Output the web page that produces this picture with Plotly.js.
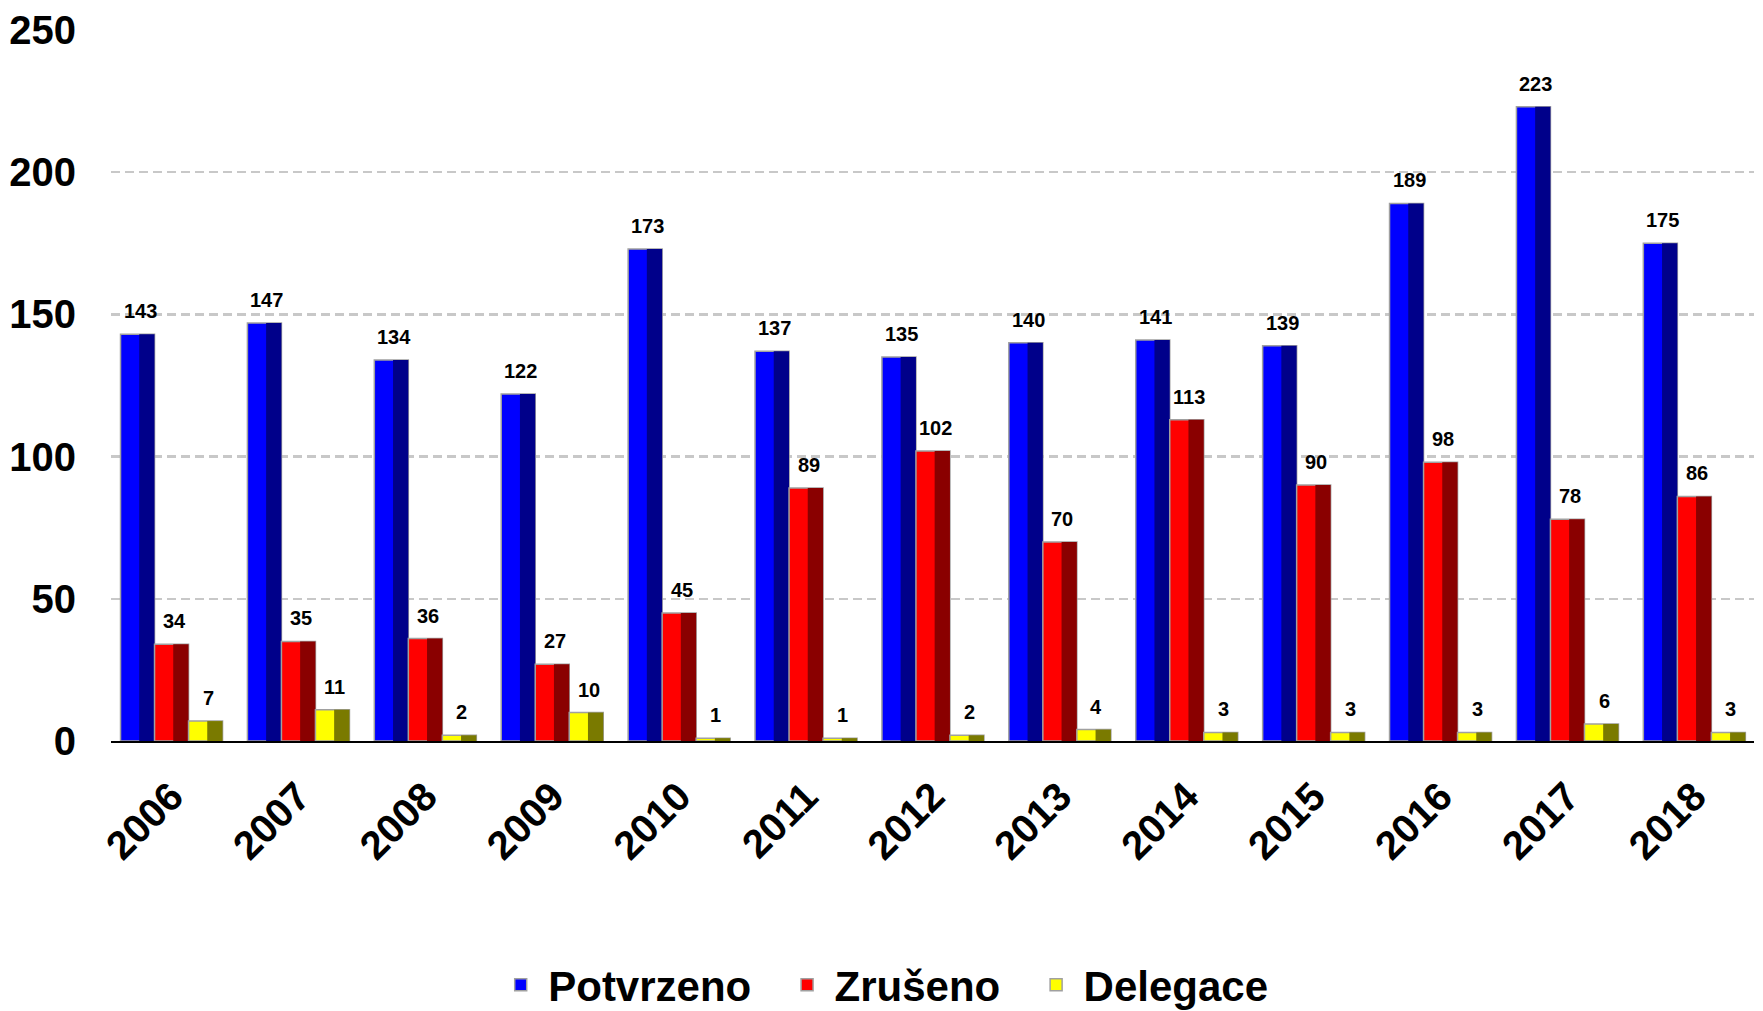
<!DOCTYPE html>
<html>
<head>
<meta charset="utf-8">
<script src="https://cdn.plot.ly/plotly-3.0.1.min.js"></script>
<style>html,body{margin:0;padding:0;background:#fff;}#chart{width:1763px;height:1011px;}</style>
</head>
<body>
<div id="chart"></div>
<script>
const years = ['2006','2007','2008','2009','2010','2011','2012','2013','2014','2015','2016','2017','2018'];
const potvrzeno = [143,147,134,122,173,137,135,140,141,139,189,223,175];
const zruseno = [34,35,36,27,45,89,102,70,113,90,98,78,86];
const delegace = [7,11,2,10,1,1,2,4,3,3,3,6,3];
const seriesNames = ['Potvrzeno','Zrušeno','Delegace'];
const tickValsY = [0,50,100,150,200,250];

const FONT = '"Liberation Sans", Arial, sans-serif';
const NB = '\u00a0\u00a0';
const series = [
  {name: seriesNames[0], y: potvrzeno, light: '#0000ff', dark: '#00008a', pad: NB},
  {name: seriesNames[1], y: zruseno, light: '#ff0000', dark: '#8a0000', pad: NB},
  {name: seriesNames[2], y: delegace, light: '#ffff00', dark: '#7a7a00', pad: ''}
];
const idx = years.map((_, i) => i);
const W = 0.268;
const offsets = [-0.402, -0.134, 0.134];

const traces = [];
const annotations = [];
series.forEach((s, k) => {
  traces.push({
    type: 'bar', name: s.name + s.pad, x: idx, y: s.y,
    width: W, offset: offsets[k],
    marker: {color: s.light, line: {color: '#a0a0a0', width: 1.5}},
    hoverinfo: 'y', showlegend: true
  });
  traces.push({
    type: 'bar', name: s.name + ' shade', x: idx, y: s.y,
    width: W * 0.45, offset: offsets[k] + W * 0.55,
    marker: {color: s.dark, line: {width: 0}},
    hoverinfo: 'skip', showlegend: false
  });
  s.y.forEach((v, i) => {
    annotations.push({
      x: i + offsets[k] + W / 2 + 0.02, y: v, xref: 'x', yref: 'y',
      text: String(v), showarrow: false, yanchor: 'bottom', yshift: 10,
      font: {family: FONT, size: 20, color: '#000', weight: 'bold'}
    });
  });
});

const layout = {
  width: 1763, height: 1011,
  margin: {l: 111, r: 9, t: 30, b: 270, autoexpand: false},
  paper_bgcolor: '#fff', plot_bgcolor: '#fff',
  barmode: 'overlay',
  font: {family: FONT, color: '#000'},
  xaxis: {
    type: 'linear', range: [-0.477, 12.47],
    tickmode: 'array', tickvals: idx, ticktext: years,
    tickangle: -45, tickfont: {family: FONT, size: 40, weight: 'bold'},
    showgrid: false, zeroline: false, automargin: false,
    showline: true, linecolor: '#000', linewidth: 2,
    ticks: '', ticklabelstandoff: 14
  },
  yaxis: {
    range: [0, 250], tickmode: 'array', tickvals: tickValsY,
    tickfont: {family: FONT, size: 40, weight: 'bold'},
    showgrid: true, gridcolor: '#c8c8c8', gridwidth: 2.5, griddash: '9px,5px',
    zeroline: false, showline: false, ticks: '', ticklabelstandoff: 34, automargin: false
  },
  legend: {
    orientation: 'h', x: 0.47, xanchor: 'center', xref: 'paper',
    y: -0.343, yanchor: 'middle', yref: 'paper',
    font: {family: FONT, size: 42, weight: 'bold', color: '#000'},
    itemwidth: 45, tracegroupgap: 0
  },
  annotations: annotations
};

Plotly.newPlot('chart', traces, layout, {displayModeBar: false, staticPlot: true});
</script>
</body>
</html>
